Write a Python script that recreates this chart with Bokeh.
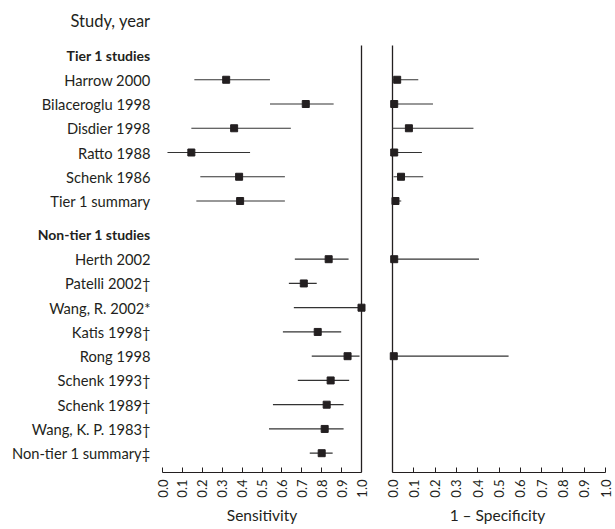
import math
from bokeh.plotting import figure
from bokeh.layouts import row
from bokeh.models import Range1d, FixedTicker, PrintfTickFormatter, ColumnDataSource, LinearAxis
from bokeh.core.properties import value
from bokeh.embed import file_html
from bokeh.resources import INLINE

# ---------------- data ----------------
tier1_studies = ["Harrow 2000", "Bilaceroglu 1998", "Disdier 1998", "Ratto 1988",
                 "Schenk 1986", "Tier 1 summary"]
nontier_studies = ["Herth 2002", "Patelli 2002\u2020", "Wang, R. 2002*", "Katis 1998\u2020",
                   "Rong 1998", "Schenk 1993\u2020", "Schenk 1989\u2020",
                   "Wang, K. P. 1983\u2020", "Non-tier 1 summary\u2021"]
headers = ["Tier 1 studies", "Non-tier 1 studies"]

NaN = float("nan")
sens = [0.32, 0.72, 0.36, 0.145, 0.385, 0.39,
        0.835, 0.71, 1.0, 0.78, 0.93, 0.845, 0.825, 0.815, 0.80]
sens_lo = [0.16, 0.54, 0.145, 0.025, 0.19, 0.17,
           0.665, 0.635, 0.66, 0.605, 0.75, 0.68, 0.555, 0.535, 0.74]
sens_hi = [0.54, 0.86, 0.645, 0.44, 0.615, 0.615,
           0.935, 0.775, 1.0, 0.898, 0.99, 0.938, 0.91, 0.91, 0.855]

spec = [0.022, 0.008, 0.077, 0.008, 0.04, 0.014,
        0.008, NaN, NaN, NaN, 0.006, NaN, NaN, NaN, NaN]
spec_lo = [0.0, 0.0, 0.0, 0.0, 0.005, 0.0,
           0.0, NaN, NaN, NaN, 0.0, NaN, NaN, NaN, NaN]
spec_hi = [0.121, 0.19, 0.38, 0.138, 0.144, 0.041,
           0.406, NaN, NaN, NaN, 0.545, NaN, NaN, NaN, NaN]

ticks = [0.0, 0.1, 0.2, 0.3, 0.4, 0.5, 0.6, 0.7, 0.8, 0.9, 1.0]

# ---------------- layout ----------------
FONT = "Lato"
INK = "#231f20"
ROW_PX = 24.25
GROUP_GAP = 1.4

y_header = [0.0, len(tier1_studies) + GROUP_GAP]
y_studies = [i + 1.0 for i in range(len(tier1_studies))] + \
            [y_header[1] + i + 1.0 for i in range(len(nontier_studies))]
studies = tier1_studies + nontier_studies

H = 529
BOT = 57
frame_h = H - BOT
y_top = -55.0 / ROW_PX          # frame top (canvas y = 0)
y_bot = y_top + frame_h / ROW_PX
line_top = -10.0 / ROW_PX       # top of the vertical reference lines


def make_axis(label, visible=True):
    ax = LinearAxis(ticker=FixedTicker(ticks=ticks),
                    formatter=PrintfTickFormatter(format="%.1f"),
                    bounds=(0, 1), axis_label=label)
    ax.major_tick_in = 5
    ax.major_tick_out = 0
    ax.minor_tick_line_color = None
    ax.axis_line_width = 1.2
    ax.major_label_orientation = math.pi / 2
    ax.major_label_standoff = 7
    ax.major_label_text_font = FONT
    ax.major_label_text_font_size = "13px"
    ax.axis_label_standoff = 5
    ax.axis_label_text_font = FONT
    ax.axis_label_text_font_size = "15.5px"
    ax.axis_label_text_font_style = "normal"
    c = INK if visible else None
    ax.axis_line_color = c
    ax.major_tick_line_color = c
    ax.major_label_text_color = c
    ax.axis_label_text_color = c
    return ax


def base_fig(width, mbl, mbr, x_range, label, visible):
    f = figure(width=width, height=H, output_backend="svg", toolbar_location=None,
               x_range=x_range, y_range=Range1d(y_bot, y_top),
               min_border_left=mbl, min_border_right=mbr,
               min_border_top=0, min_border_bottom=BOT,
               x_axis_location=None, y_axis_location=None)
    f.outline_line_color = None
    f.grid.visible = False
    f.background_fill_color = "white"
    f.border_fill_color = "white"
    f.add_layout(make_axis(label, visible), "below")
    return f


# labels panel
LW = 152
lab = base_fig(LW, 0, 0, Range1d(0, LW), "Sensitivity", False)
lab.text(x=[LW - 2] * len(studies), y=y_studies, text=studies,
         text_align="right", text_baseline="middle",
         text_font=value(FONT), text_font_size="14.7px", text_color=INK)
lab.text(x=[LW - 2] * len(headers), y=y_header, text=headers,
         text_align="right", text_baseline="middle",
         text_font=value(FONT), text_font_size="14px", text_font_style="bold",
         text_color=INK)
lab.text(x=[LW - 2], y=[y_top + 20.0 / ROW_PX], text=["Study, year"],
         text_align="right", text_baseline="middle",
         text_font=value(FONT), text_font_size="16.5px", text_color=INK)


def panel(width, unit_px, pad_l, pad_r, mbl, mbr, xs, lo, hi, xlabel, ref_x):
    f = base_fig(width, mbl, mbr, Range1d(-pad_l / unit_px, 1 + pad_r / unit_px), xlabel, True)
    f.segment(x0=[ref_x], x1=[ref_x], y0=[line_top], y1=[y_bot],
              line_color=INK, line_width=1.3)
    src = ColumnDataSource(dict(y=y_studies, x=xs, lo=lo, hi=hi))
    f.segment(x0="lo", x1="hi", y0="y", y1="y", source=src, line_color="#333333", line_width=1.2)
    f.scatter(x="x", y="y", source=src, marker="square", size=7,
              fill_color=INK, line_color=INK)
    return f


left = panel(232, 199, 6, 6, 4, 17, sens, sens_lo, sens_hi, "Sensitivity", 1.0)
right = panel(231, 213, 6, 3, 2, 7, spec, spec_lo, spec_hi, "1 \u2013 Specificity", 0.0)

p = row(lab, left, right)
open("out.html", "w").write(file_html(p, INLINE))
